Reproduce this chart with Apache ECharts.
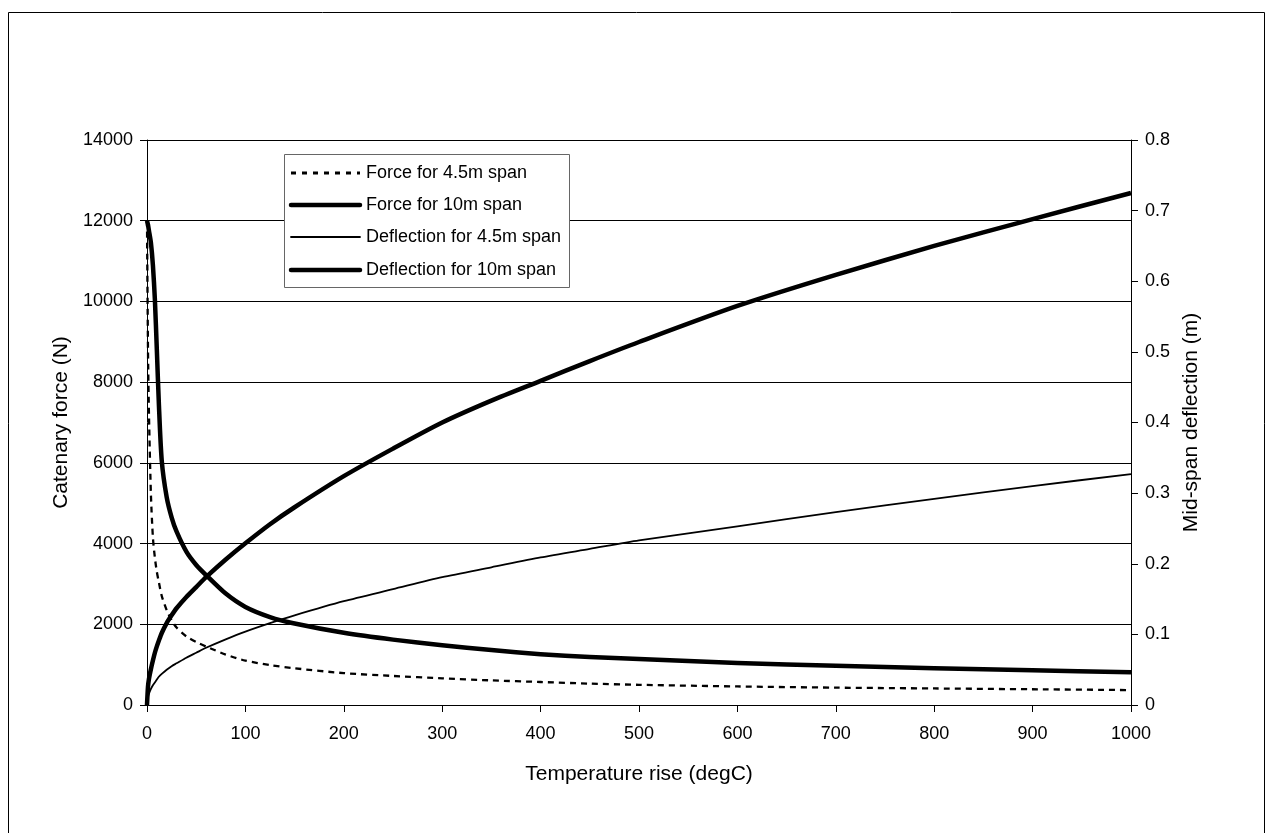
<!DOCTYPE html>
<html>
<head>
<meta charset="utf-8">
<script src="https://cdn.jsdelivr.net/npm/echarts@6/dist/echarts.min.js"></script>
<style>
html,body{margin:0;padding:0;background:#fff;}
#chart{width:1272px;height:833px;}
</style>
</head>
<body>
<div id="chart"></div>
<script>
// Temperature rise (degC)
const temps = [0,1,2,4,6,8,10,12,15,20,25,30,40,50,60,80,100,125,150,200,250,300,350,400,450,500,600,700,800,900,1000];
// Catenary force (N)
const force45 = [12000,8800,7200,5200,4150,3650,3300,3050,2700,2350,2100,1920,1700,1560,1450,1250,1100,990,910,790,720,660,610,570,530,500,460,430,410,390,370];
const force10 = [12000,11900,11750,11450,10900,10050,8800,7500,6050,5150,4650,4300,3800,3470,3220,2760,2430,2180,2020,1790,1620,1480,1360,1260,1190,1140,1040,970,910,860,810];
// Mid-span deflection (m)
const defl45 = [0,0.011,0.016,0.023,0.028,0.032,0.036,0.040,0.044,0.050,0.055,0.059,0.067,0.074,0.081,0.093,0.104,0.116,0.127,0.147,0.164,0.181,0.195,0.209,0.221,0.233,0.253,0.273,0.292,0.310,0.327];
const defl10 = [0,0.026,0.037,0.051,0.063,0.074,0.083,0.091,0.102,0.116,0.127,0.137,0.153,0.167,0.181,0.206,0.229,0.256,0.280,0.324,0.363,0.400,0.431,0.459,0.487,0.514,0.565,0.609,0.650,0.688,0.725];

const seriesNames = ['Force for 4.5m span','Force for 10m span','Deflection for 4.5m span','Deflection for 10m span'];
const xTitle = 'Temperature rise (degC)';
const yLeftTitle = 'Catenary force (N)';
const yRightTitle = 'Mid-span deflection (m)';

const pairs = (ys) => temps.map((t, i) => [t, ys[i]]);
const FONT = '"Liberation Sans", Arial, sans-serif';

// line styles per series (shared by plot and legend)
const lineStyles = [
  {color: '#000', width: 2.3, type: [6, 5]},
  {color: '#000', width: 4.5, type: 'solid'},
  {color: '#000', width: 1.8, type: 'solid'},
  {color: '#000', width: 4.5, type: 'solid'}
];
const yAxisOf = [0, 0, 1, 1];
const seriesData = [force45, force10, defl45, defl10];

// hand-drawn legend (box + samples + labels)
const LG = {x: 284.5, y: 154.5, w: 285, h: 133, rows: [173, 205, 237, 270], lx0: 291, lx1: 360, tx: 366};
const legendGraphics = [{
  type: 'rect', silent: true, z: 20,
  shape: {x: LG.x, y: LG.y, width: LG.w, height: LG.h},
  style: {fill: '#fff', stroke: '#666', lineWidth: 1}
}];
seriesNames.forEach((name, i) => {
  const ls = lineStyles[i];
  legendGraphics.push({
    type: 'line', silent: true, z: 21,
    shape: {x1: LG.lx0, y1: LG.rows[i], x2: LG.lx1, y2: LG.rows[i]},
    style: {stroke: ls.color, lineWidth: i === 0 ? 3 : ls.width, lineDash: Array.isArray(ls.type) ? [5, 6] : null, lineCap: i === 0 ? 'butt' : 'round'}
  });
  legendGraphics.push({
    type: 'text', silent: true, z: 21,
    x: LG.tx, y: LG.rows[i],
    style: {text: name, font: '18px ' + FONT, fill: '#000', textVerticalAlign: 'middle', verticalAlign: 'middle'}
  });
});

const chart = echarts.init(document.getElementById('chart'), null, {renderer: 'canvas'});
chart.setOption({
  backgroundColor: '#ffffff',
  animation: false,
  textStyle: {fontFamily: FONT, color: '#000'},
  graphic: [{
    type: 'rect', silent: true, z: -10,
    shape: {x: 8.5, y: 12.5, width: 1256, height: 840},
    style: {fill: 'none', stroke: '#000', lineWidth: 1}
  }].concat(legendGraphics),
  grid: {left: 147, top: 140, right: 141, bottom: 128, containLabel: false},
  legend: {show: false},
  xAxis: {
    type: 'value', min: 0, max: 1000, interval: 100,
    name: xTitle, nameLocation: 'middle', nameGap: 59,
    nameTextStyle: {fontFamily: FONT, fontSize: 21, color: '#000'},
    axisLine: {show: true, onZero: false, lineStyle: {color: '#000', width: 1}},
    axisTick: {show: true, inside: false, length: 7, lineStyle: {color: '#000'}},
    axisLabel: {fontFamily: FONT, fontSize: 18, color: '#000', margin: 20, formatter: v => String(v)},
    splitLine: {show: false}
  },
  yAxis: [{
    type: 'value', min: 0, max: 14000, interval: 2000, position: 'left',
    name: yLeftTitle, nameLocation: 'middle', nameGap: 59,
    nameTextStyle: {fontFamily: FONT, fontSize: 21, color: '#000'},
    axisLine: {show: true, onZero: false, lineStyle: {color: '#000', width: 1}},
    axisTick: {show: true, inside: false, length: 7, lineStyle: {color: '#000'}},
    axisLabel: {fontFamily: FONT, fontSize: 18, color: '#000', margin: 14, formatter: v => String(v)},
    splitLine: {show: true, lineStyle: {color: '#000', width: 1}}
  }, {
    type: 'value', min: 0, max: 0.8, interval: 0.1, position: 'right',
    name: yRightTitle, nameLocation: 'middle', nameGap: 47,
    nameTextStyle: {fontFamily: FONT, fontSize: 21, color: '#000'},
    axisLine: {show: true, onZero: false, lineStyle: {color: '#000', width: 1}},
    axisTick: {show: true, inside: false, length: 7, lineStyle: {color: '#000'}},
    axisLabel: {fontFamily: FONT, fontSize: 18, color: '#000', margin: 14, formatter: v => String(+v.toFixed(1))},
    splitLine: {show: false}
  }],
  series: seriesNames.map((name, i) => ({
    name: name, type: 'line', yAxisIndex: yAxisOf[i], data: pairs(seriesData[i]),
    showSymbol: false, symbol: 'none', z: lineStyles[i].width > 3 ? 4 : 3,
    smooth: 0.25,
    itemStyle: {color: '#000'},
    lineStyle: Object.assign({join: 'round'}, lineStyles[i])
  }))
});
</script>
</body>
</html>
